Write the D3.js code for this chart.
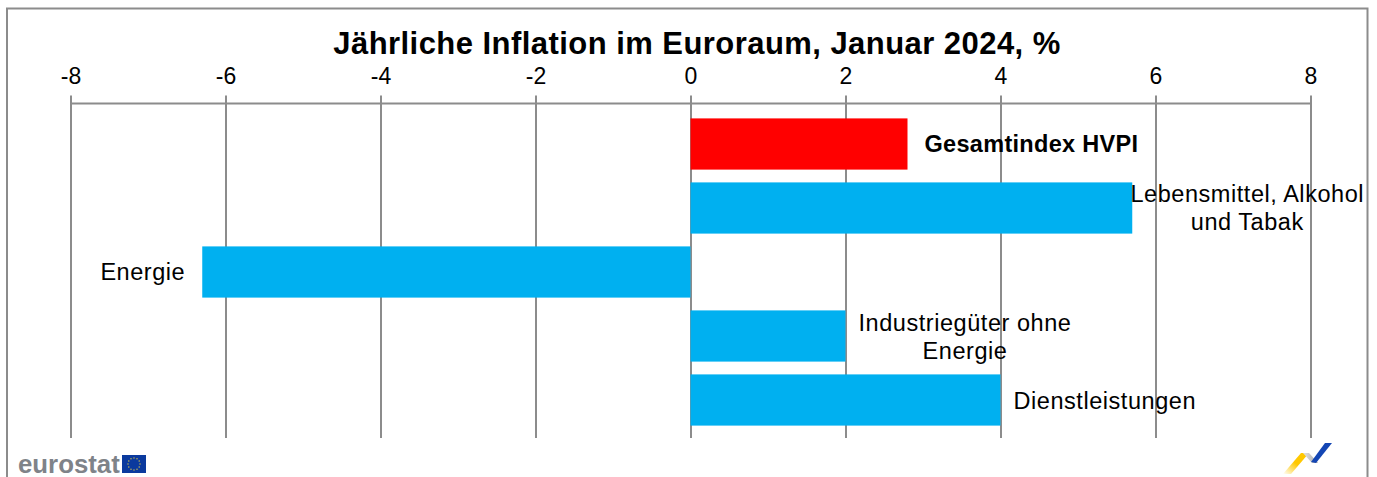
<!DOCTYPE html>
<html lang="de">
<head>
<meta charset="utf-8">
<title>Jährliche Inflation im Euroraum, Januar 2024</title>
<script src="https://cdn.jsdelivr.net/npm/d3@7"></script>
<style>
    html, body { margin: 0; padding: 0; background: #fff; }
    #chart { width: 1377px; height: 477px; overflow: hidden; }
    text { font-family: "Liberation Sans", Arial, sans-serif; fill: #000; }
    .axis text { font-size: 23px; }
    .axis line, .axis path { stroke: #8c8c8c; stroke-width: 2px; }
    .chart-title { font-size: 31px; font-weight: bold; letter-spacing: 0.45px; }
    .bar-label { font-size: 23.5px; letter-spacing: 0.55px; }
    .bar-label.strong { letter-spacing: 0.3px; }
</style>
</head>
<body>
<div id="chart"></div>
<script>
const categories = ["Gesamtindex HVPI", "Lebensmittel, Alkohol und Tabak", "Energie", "Industriegüter ohne Energie", "Dienstleistungen"];
const values = [2.8, 5.7, -6.3, 2.0, 4.0];
const barColors = ["#ff0000", "#00b0f0", "#00b0f0", "#00b0f0", "#00b0f0"];
const labelLines = [["Gesamtindex HVPI"], ["Lebensmittel, Alkohol", "und Tabak"], ["Energie"], ["Industriegüter ohne", "Energie"], ["Dienstleistungen"]];
const xTicks = [-8, -6, -4, -2, 0, 2, 4, 6, 8];

function renderInflation(selector) {
    const width = 1377, height = 477;

    const svg = d3.select(selector).append("svg")
        .attr("width", width)
        .attr("height", height)
        .attr("viewBox", `0 0 ${width} ${height}`);

    // outer frame, runs off the bottom of the picture like the original
    svg.append("rect")
        .attr("x", 7).attr("y", 8.5)
        .attr("width", 1360.5).attr("height", 500)
        .attr("fill", "none")
        .attr("stroke", "#8c8c8c")
        .attr("stroke-width", 2);

    const x = d3.scaleLinear().domain([-8, 8]).range([70.5, 1310.5]);
    const y = d3.scaleBand().domain(categories).range([105.6, 438.4]).padding(0.2);
    const axisY = 103.5, axisBottom = 438;

    const axis = svg.append("g")
        .attr("class", "axis")
        .attr("transform", `translate(0, ${axisY})`)
        .call(d3.axisTop(x).tickValues(xTicks).tickSize(0).tickPadding(20).tickFormat(d3.format("d")));
    axis.select(".domain").attr("d", `M${x(-8)},0H${x(8)}`);
    axis.selectAll(".tick line")
        .attr("y1", -8)
        .attr("y2", axisBottom - axisY);
    // d3 uses the unicode minus by default, the chart has a plain hyphen
    axis.selectAll(".tick text").text(d => String(d));

    svg.selectAll(".bar")
        .data(categories)
        .enter()
        .append("rect")
        .attr("class", "bar")
        .attr("x", (d, i) => x(Math.min(0, values[i])))
        .attr("y", d => y(d))
        .attr("width", (d, i) => Math.abs(x(values[i]) - x(0)))
        .attr("height", y.bandwidth())
        .attr("fill", (d, i) => barColors[i]);

    svg.append("text")
        .attr("class", "chart-title")
        .attr("x", 697)
        .attr("y", 54)
        .attr("text-anchor", "middle")
        .text("Jährliche Inflation im Euroraum, Januar 2024, %");

    // hand placed labels: offset from the bar end, baseline offset from the band centre
    const labelPlace = [
        {dx: 17, dy: 8, anchor: "start", weight: "bold"},
        {dx: 115, dy: -6, anchor: "middle"},
        {dx: -17, dy: 8, anchor: "end"},
        {dx: 119.5, dy: -5, anchor: "middle"},
        {dx: 13, dy: 9, anchor: "start"}
    ];

    const labels = svg.selectAll(".bar-label")
        .data(categories)
        .enter()
        .append("text")
        .attr("class", (d, i) => labelPlace[i].weight ? "bar-label strong" : "bar-label")
        .attr("text-anchor", (d, i) => labelPlace[i].anchor)
        .attr("font-weight", (d, i) => labelPlace[i].weight || "normal")
        .attr("transform", (d, i) => `translate(${x(values[i]) + labelPlace[i].dx}, ${y(d) + y.bandwidth() / 2 + labelPlace[i].dy})`);

    labels.selectAll("tspan")
        .data((d, i) => labelLines[i])
        .enter()
        .append("tspan")
        .attr("x", 0)
        .attr("dy", (d, i) => i === 0 ? 0 : 28)
        .text(d => d);

    drawLogos(svg);
}

function drawLogos(svg) {
    svg.append("text")
        .attr("x", 18)
        .attr("y", 473)
        .attr("font-size", 25.8)
        .attr("font-weight", "bold")
        .style("fill", "#7f8389")
        .text("eurostat");

    const flag = svg.append("g").attr("transform", "translate(122, 455)");
    flag.append("rect").attr("width", 24).attr("height", 18).attr("fill", "#0b3a9e");
    flag.selectAll("circle")
        .data(d3.range(12))
        .enter()
        .append("circle")
        .attr("cx", d => 12 + 6 * Math.cos(d * Math.PI / 6))
        .attr("cy", d => 9 + 6 * Math.sin(d * Math.PI / 6))
        .attr("r", 0.7)
        .attr("fill", "#d9c34a");

    const defs = svg.append("defs");
    const fade = defs.append("linearGradient")
        .attr("id", "swoosh-yellow")
        .attr("x1", "0").attr("y1", "1").attr("x2", "1").attr("y2", "0");
    fade.append("stop").attr("offset", "0").attr("stop-color", "#ffc800").attr("stop-opacity", 0);
    fade.append("stop").attr("offset", "0.5").attr("stop-color", "#ffc800");
    const grey = defs.append("linearGradient")
        .attr("id", "swoosh-grey")
        .attr("x1", "0").attr("y1", "0").attr("x2", "1").attr("y2", "0");
    grey.append("stop").attr("offset", "0").attr("stop-color", "#e4e4e4");
    grey.append("stop").attr("offset", "1").attr("stop-color", "#a8a8a8");

    svg.append("path").attr("d", "M1283,474L1301,453L1309,453L1291,474Z").attr("fill", "url(#swoosh-yellow)");
    svg.append("path").attr("d", "M1303,453L1309,453L1318,463L1312,463Z").attr("fill", "url(#swoosh-grey)");
    svg.append("path").attr("d", "M1311,462L1325,443L1332,443L1316,463Z").attr("fill", "#1446b4");
}

renderInflation("#chart");
</script>
</body>
</html>
